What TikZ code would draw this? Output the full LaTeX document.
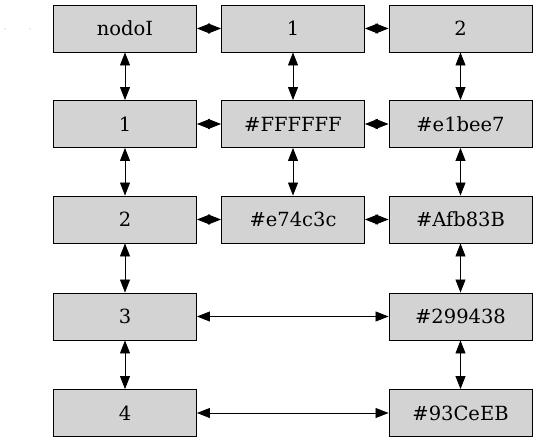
\documentclass[tikz,border=0pt]{standalone}
\usepackage{fontspec}
\setmainfont{DejaVu Serif}
\usetikzlibrary{arrows.meta}
\definecolor{boxgray}{RGB}{211,211,211}
\begin{document}
\begin{tikzpicture}[x=1pt, y=-1pt,
        every node/.style={rectangle, draw=black, fill=boxgray, line width=0.9pt,
            minimum width=143pt, minimum height=47pt, inner sep=0pt,
            font=\fontsize{19.5}{23}\selectfont},
        link/.style={line width=0.8pt, {Triangle[length=13pt,width=10pt]}-{Triangle[length=13pt,width=10pt]}},
        speck/.style={circle, draw=none, fill=gray, minimum size=1pt, inner sep=0pt, minimum width=1pt, minimum height=1pt}]

        \useasboundingbox (0,0) rectangle (539,443);

        \node[speck] (p1) at (5,29) {};
        \node[speck] (p2) at (30,29) {};

        \node (N0) at (125,28.5) {nodoI};
        \node (A) at (293,28.5) {1};
        \node (B) at (460.5,28.5) {2};
        \node (R1) at (125,124) {1};
        \node (C1) at (293,124) {\#FFFFFF};
        \node (D1) at (460.5,124) {\#e1bee7};
        \node (R2) at (125,219.5) {2};
        \node (C2) at (293,219.5) {\#e74c3c};
        \node (D2) at (460.5,219.5) {\#Afb83B};
        \node (R3) at (125,316.5) {3};
        \node (D3) at (460.5,316.5) {\#299438};
        \node (R4) at (125,413) {4};
        \node (D4) at (460.5,413) {\#93CeEB};

        \draw[link] (N0) to (A);
        \draw[link] (A) to (B);
        \draw[link] (R1) to (C1);
        \draw[link] (C1) to (D1);
        \draw[link] (R2) to (C2);
        \draw[link] (C2) to (D2);
        \draw[link] (R3) to (D3);
        \draw[link] (R4) to (D4);

        \draw[link] (N0) to (R1);
        \draw[link] (R1) to (R2);
        \draw[link] (R2) to (R3);
        \draw[link] (R3) to (R4);
        \draw[link] (A) to (C1);
        \draw[link] (C1) to (C2);
        \draw[link] (B) to (D1);
        \draw[link] (D1) to (D2);
        \draw[link] (D2) to (D3);
        \draw[link] (D3) to (D4);

\end{tikzpicture}
\end{document}
